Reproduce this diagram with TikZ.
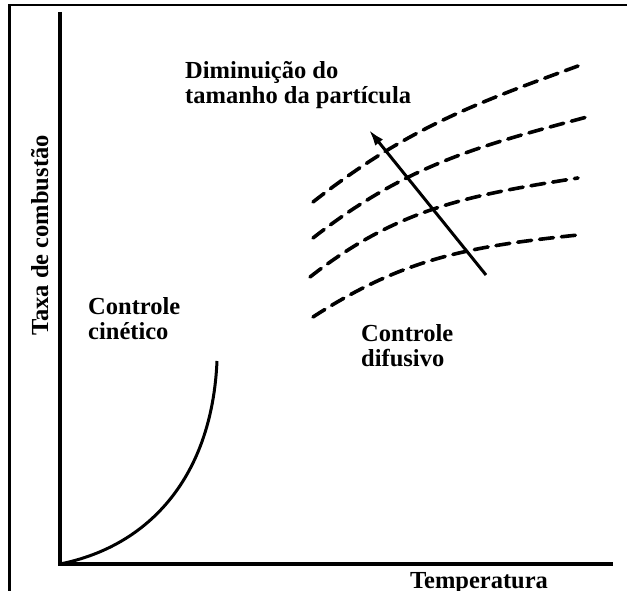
\documentclass[tikz,border=0pt]{standalone}
\usepackage{fontspec}
\setmainfont{Liberation Serif}
\usetikzlibrary{arrows.meta}

\tikzset{
  lbl/.style={font=\bfseries\fontsize{24.5}{25}\selectfont, inner sep=0pt, align=left},
  axis/.style={line width=4pt},
  diff/.style={line width=3.6pt, dash pattern=on 14pt off 8pt, line cap=round},
}

\begin{document}
\begin{tikzpicture}[x=1pt, y=1pt]
      \useasboundingbox (0, 0) rectangle (627, 591);
      \draw[line width=2.5pt] (9.5, 0) -- (9.5, 586) -- (627, 586);
      \coordinate (o) at (60, 27);
      \coordinate (ytop) at (60, 579);
      \coordinate (xend) at (613, 27);
      \coordinate (kin) at (217, 230);
      \draw[axis] (ytop) -- (o) -- (xend);
      \draw[line width=3pt] (o) .. controls (150, 45) and (212, 115) .. (kin);
      \foreach \sx/\sy/\ex/\ey/\o/\i in {313/389/578/525/38/200, 313/353/587/474/38/195,
          310/314/578/413/38/189, 313/274/578/356/33/186} {
        \draw[diff] (\sx, \sy) to[out=\o, in=\i] (\ex, \ey);
      }
      \coordinate (a1) at (486, 316);
      \coordinate (a2) at (369, 461);
      \draw[line width=3pt, -{Latex[length=16pt, width=10pt]}] (a1) -- (a2);
      \node[lbl, anchor=base west] (dim) at (185, 487.7) {Diminuição do\\tamanho da partícula};
      \node[lbl, anchor=base west] (cin) at (88, 251) {Controle\\cinético};
      \node[lbl, anchor=base west] (dif) at (361, 224.3) {Controle\\difusivo};
      \node[lbl, anchor=base, rotate=90] (taxa) at (48, 355.5) {Taxa de combustão};
      \node[lbl, anchor=base] (temp) at (479, 2.5) {Temperatura};
    \end{tikzpicture}
\end{document}
